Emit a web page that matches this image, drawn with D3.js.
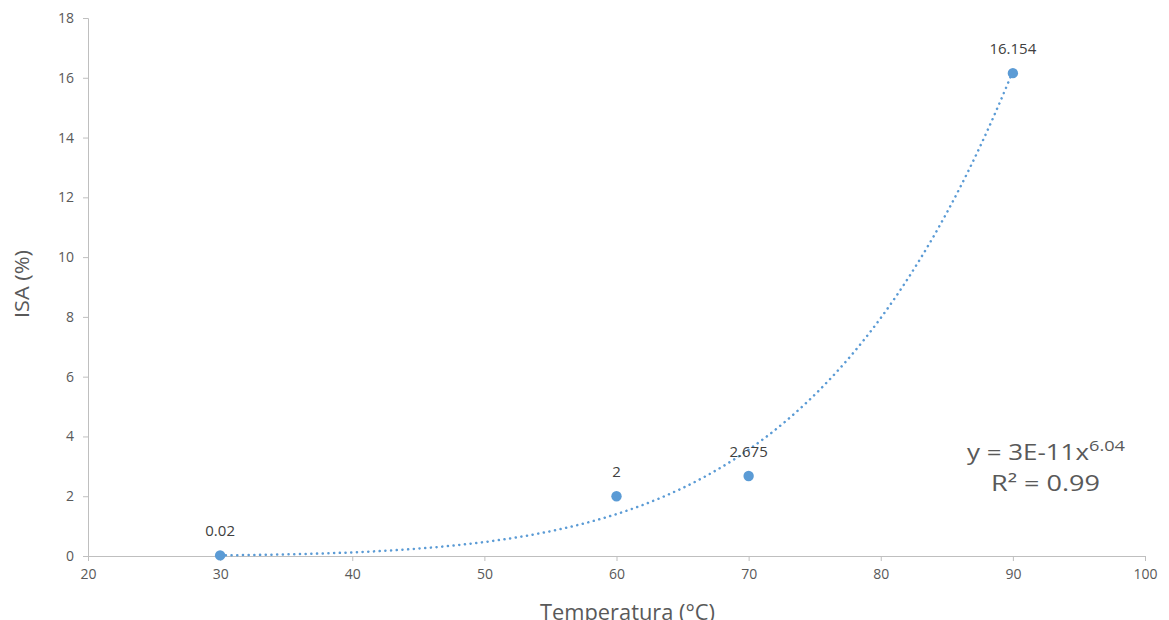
<!DOCTYPE html>
<html>
<head>
<meta charset="utf-8">
<script src="https://cdn.jsdelivr.net/npm/d3@7"></script>
<style>
  html, body { margin: 0; padding: 0; background: #fff; }
  svg { display: block; }
  .tick text { font-family: "Open Sans", sans-serif; font-size: 14px; fill: #595959; }
</style>
</head>
<body>
<svg id="chart" width="1169" height="620"></svg>
<script>
// Measurements: temperature (°C) vs ISA (%)
const temperatures = [30, 60, 70, 90];
const isaValues = [0.02, 2, 2.675, 16.154];
const pointLabels = ["0.02", "2", "2.675", "16.154"];
const xTicks = [20, 30, 40, 50, 60, 70, 80, 90, 100];
const yTicks = [0, 2, 4, 6, 8, 10, 12, 14, 16, 18];
const equationText = "y = 3E-11x";
const equationExp = "6.04";
const rSquaredText = "R² = 0.99";

const svg = d3.select("#chart");

const x = d3.scaleLinear().domain([20, 100]).range([88, 1145]);
const y = d3.scaleLinear().domain([0, 18]).range([556, 18]);

const axisColor = "#bfbfbf";
const blue = "#5b9bd5";
const font = "Open Sans, sans-serif";

// Y axis
const yAxis = svg.append("g")
  .attr("transform", `translate(${x(20)},0)`)
  .call(d3.axisLeft(y).tickValues(yTicks).tickSize(5).tickPadding(9).tickFormat(d3.format("d")));
yAxis.selectAll("path, line").attr("stroke", axisColor);

// X axis
const xAxis = svg.append("g")
  .attr("transform", `translate(0,${y(0)})`)
  .call(d3.axisBottom(x).tickValues(xTicks).tickSize(5).tickPadding(8).tickFormat(d3.format("d")));
xAxis.selectAll("path, line").attr("stroke", axisColor);

// Axis titles
svg.append("text")
  .attr("transform", `translate(29,284) rotate(-90)`)
  .attr("text-anchor", "middle")
  .attr("textLength", 68)
  .attr("lengthAdjust", "spacingAndGlyphs")
  .attr("font-family", font)
  .attr("font-size", 20)
  .attr("fill", "#595959")
  .text("ISA (%)");

svg.append("text")
  .attr("x", 540)
  .attr("y", 619.5)
  .attr("textLength", 175)
  .attr("lengthAdjust", "spacingAndGlyphs")
  .attr("font-family", font)
  .attr("font-size", 21)
  .attr("fill", "#595959")
  .text("Temperatura (°C)");

// Power trendline fitted by least squares in log-log space
const lx = temperatures.map(Math.log);
const ly = isaValues.map(Math.log);
const mx = d3.mean(lx), my = d3.mean(ly);
const b = d3.sum(lx, (v, i) => (v - mx) * (ly[i] - my)) / d3.sum(lx, v => (v - mx) * (v - mx));
const a = Math.exp(my - b * mx);
const trend = d3.range(30, 90.001, 0.25).map(t => [t, a * Math.pow(t, b)]);

svg.append("path")
  .datum(trend)
  .attr("fill", "none")
  .attr("stroke", blue)
  .attr("stroke-width", 2.5)
  .attr("stroke-linecap", "round")
  .attr("stroke-dasharray", "0.1 5.6")
  .attr("d", d3.line().x(d => x(d[0])).y(d => y(d[1])));

// Data points
const pts = temperatures.map((t, i) => ({ t, v: isaValues[i], label: pointLabels[i] }));
svg.selectAll("circle.pt")
  .data(pts)
  .enter().append("circle")
  .attr("class", "pt")
  .attr("cx", d => x(d.t))
  .attr("cy", d => y(d.v))
  .attr("r", 5.2)
  .attr("fill", blue);

svg.selectAll("text.lbl")
  .data(pts)
  .enter().append("text")
  .attr("class", "lbl")
  .attr("x", d => x(d.t))
  .attr("y", d => y(d.v) - 19)
  .attr("text-anchor", "middle")
  .attr("font-family", font)
  .attr("font-size", 15)
  .attr("fill", "#404040")
  .text(d => d.label);

// Trendline equation
const eq = svg.append("text")
  .attr("x", 967)
  .attr("y", 460)
  .attr("font-family", font)
  .attr("font-size", 22.5)
  .attr("fill", "#595959");
eq.append("tspan").attr("textLength", 122).attr("lengthAdjust", "spacingAndGlyphs").text(equationText);
eq.append("tspan").attr("dy", -9).attr("font-size", 15)
  .attr("textLength", 36).attr("lengthAdjust", "spacingAndGlyphs").text(equationExp);

svg.append("text")
  .attr("x", 991)
  .attr("y", 491)
  .attr("textLength", 109)
  .attr("lengthAdjust", "spacingAndGlyphs")
  .attr("font-family", font)
  .attr("font-size", 21.5)
  .attr("fill", "#595959")
  .text(rSquaredText);
</script>
</body>
</html>
